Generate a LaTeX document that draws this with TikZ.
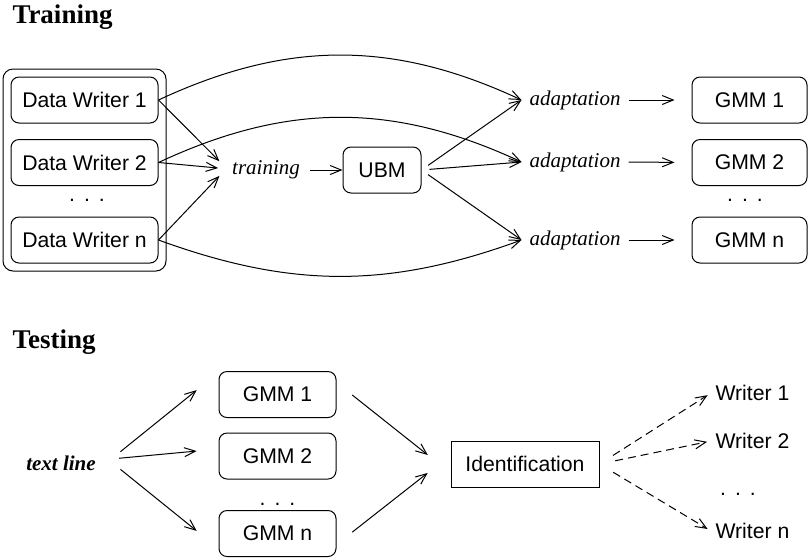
\documentclass[tikz,border=0pt]{standalone}
\usepackage{fontspec}
\setmainfont{Liberation Serif}
\setsansfont{Liberation Sans}
\usepackage{tikz}
\usetikzlibrary{
    calc,
    arrows.meta,
    fit
}
\tikzset{
    >={Straight Barb[length=5.5pt,width=4.5pt]},
    sbox/.style={draw, rounded corners=4pt, minimum height=23pt, inner sep=0pt,
        font=\sffamily\fontsize{10.6}{12}\selectfont},
    ibox/.style={sbox, sharp corners},
    lbl/.style={font=\itshape\fontsize{10.5}{12}\selectfont, inner sep=2pt, outer sep=2pt},
    dots/.style={anchor=base, inner sep=0pt, font=\sffamily\fontsize{10.6}{12}\selectfont},
    head/.style={anchor=base west, inner sep=0pt, font=\bfseries\fontsize{13.5}{16}\selectfont},
    wname/.style={anchor=west, inner sep=2pt, font=\sffamily\fontsize{10.6}{12}\selectfont},
    dashline/.style={dash pattern=on 4pt off 2.5pt}
}
\newcommand{\threedots}{.\hspace{4.5pt}.\hspace{4.5pt}.}

\begin{document}
\begin{tikzpicture}[x=0.5pt, y=-0.5pt, line width=0.5pt]
        \useasboundingbox (0,0) rectangle (808,559);

        % training
        \draw (12,23) node[head](htr){Training};

        \draw (84.5,100) node[sbox, minimum width=73.5pt](dwa){Data Writer 1};
        \draw (84.5,162.5) node[sbox, minimum width=73.5pt](dwb){Data Writer 2};
        \draw (84.5,240) node[sbox, minimum width=73.5pt](dwn){Data Writer n};
        \draw (87,201) node[dots](dtl){\threedots};
        \node[draw, rounded corners=5pt, fit=(dwa)(dwn), inner sep=3.75pt](grp){};

        \draw (266,170) node[lbl, outer sep=3pt](trn){training};
        \draw (382,170) node[sbox, minimum width=39pt](ubm){UBM};

        \draw (575,100) node[lbl](adpa){adaptation};
        \draw (575,162) node[lbl](adpb){adaptation};
        \draw (575,240) node[lbl](adpn){adaptation};

        \draw (749.5,100) node[sbox, minimum width=57.5pt](gma){GMM 1};
        \draw (749.5,162.5) node[sbox, minimum width=57.5pt](gmb){GMM 2};
        \draw (749.5,240) node[sbox, minimum width=57.5pt](gmn){GMM n};
        \draw (745,201) node[dots](dtr){\threedots};

        \draw[->, shorten >=2pt] (dwa.east) to ([yshift=3pt]trn.west);
        \draw[->, shorten >=2pt] (dwb.east) to ([yshift=0.8pt]trn.west);
        \draw[->, shorten >=2pt] (dwn.east) to ([yshift=-1.5pt]trn.west);
        \draw[->] (trn) to (ubm);

        \draw[->] (dwa.east) to[bend left=25] (adpa.west);
        \draw[->] (dwb.east) to[bend left=25] (adpb.west);
        \draw[->] (dwn.east) to[bend right=20] (adpn.west);

        \draw[->, shorten <=4pt] (ubm.east) to (adpa.west);
        \draw[->, shorten <=4pt] (ubm.east) to (adpb.west);
        \draw[->, shorten <=4pt] (ubm.east) to (adpn.west);

        \draw[->, shorten >=8.5pt] (adpa.east) to (gma.west);
        \draw[->, shorten >=8.5pt] (adpb.east) to (gmb.west);
        \draw[->, shorten >=8.5pt] (adpn.east) to (gmn.west);

        % testing
        \draw (12,348) node[head](hts){Testing};

        \draw (61,463) node[inner sep=2pt, font=\bfseries\itshape\fontsize{10.5}{12}\selectfont](txl){text line};

        \draw (277.5,394.5) node[sbox, minimum width=58.5pt](tga){GMM 1};
        \draw (277.5,456) node[sbox, minimum width=58.5pt](tgb){GMM 2};
        \draw (277.5,533.5) node[sbox, minimum width=58.5pt](tgn){GMM n};
        \draw (277.5,505) node[dots](dtm){\threedots};

        \draw (525,464) node[ibox, minimum width=74pt](idf){Identification};

        \draw (711,393) node[wname](wra){Writer 1};
        \draw (711,441) node[wname](wrb){Writer 2};
        \draw (711,531) node[wname](wrn){Writer n};
        \draw (738,495) node[dots](dtw){\threedots};

        \draw[->, shorten <=13pt, shorten >=14pt] ([yshift=-2.5pt]txl.east) to ([yshift=11pt]tga.west);
        \draw[->, shorten <=9.5pt, shorten >=11pt] ([yshift=1.5pt]txl.east) to ([yshift=3.5pt]tgb.west);
        \draw[->, shorten <=13pt, shorten >=14pt] ([yshift=5pt]txl.east) to ([yshift=-7.5pt]tgn.west);

        \draw[->, shorten <=10pt, shorten >=14.5pt] ([yshift=6pt]tga.east) to ([yshift=-4.5pt]idf.west);
        \draw[->, shorten <=10pt, shorten >=14.5pt] ([yshift=-5.5pt]tgn.east) to ([yshift=4.5pt]idf.west);

        \draw[->, dashline, shorten <=8pt, shorten >=2pt] (idf.east) to (wra.west);
        \draw[->, dashline, shorten <=8pt, shorten >=2pt] (idf.east) to (wrb.west);
        \draw[->, dashline, shorten <=8pt, shorten >=2pt] (idf.east) to (wrn.west);
    \end{tikzpicture}
\end{document}
